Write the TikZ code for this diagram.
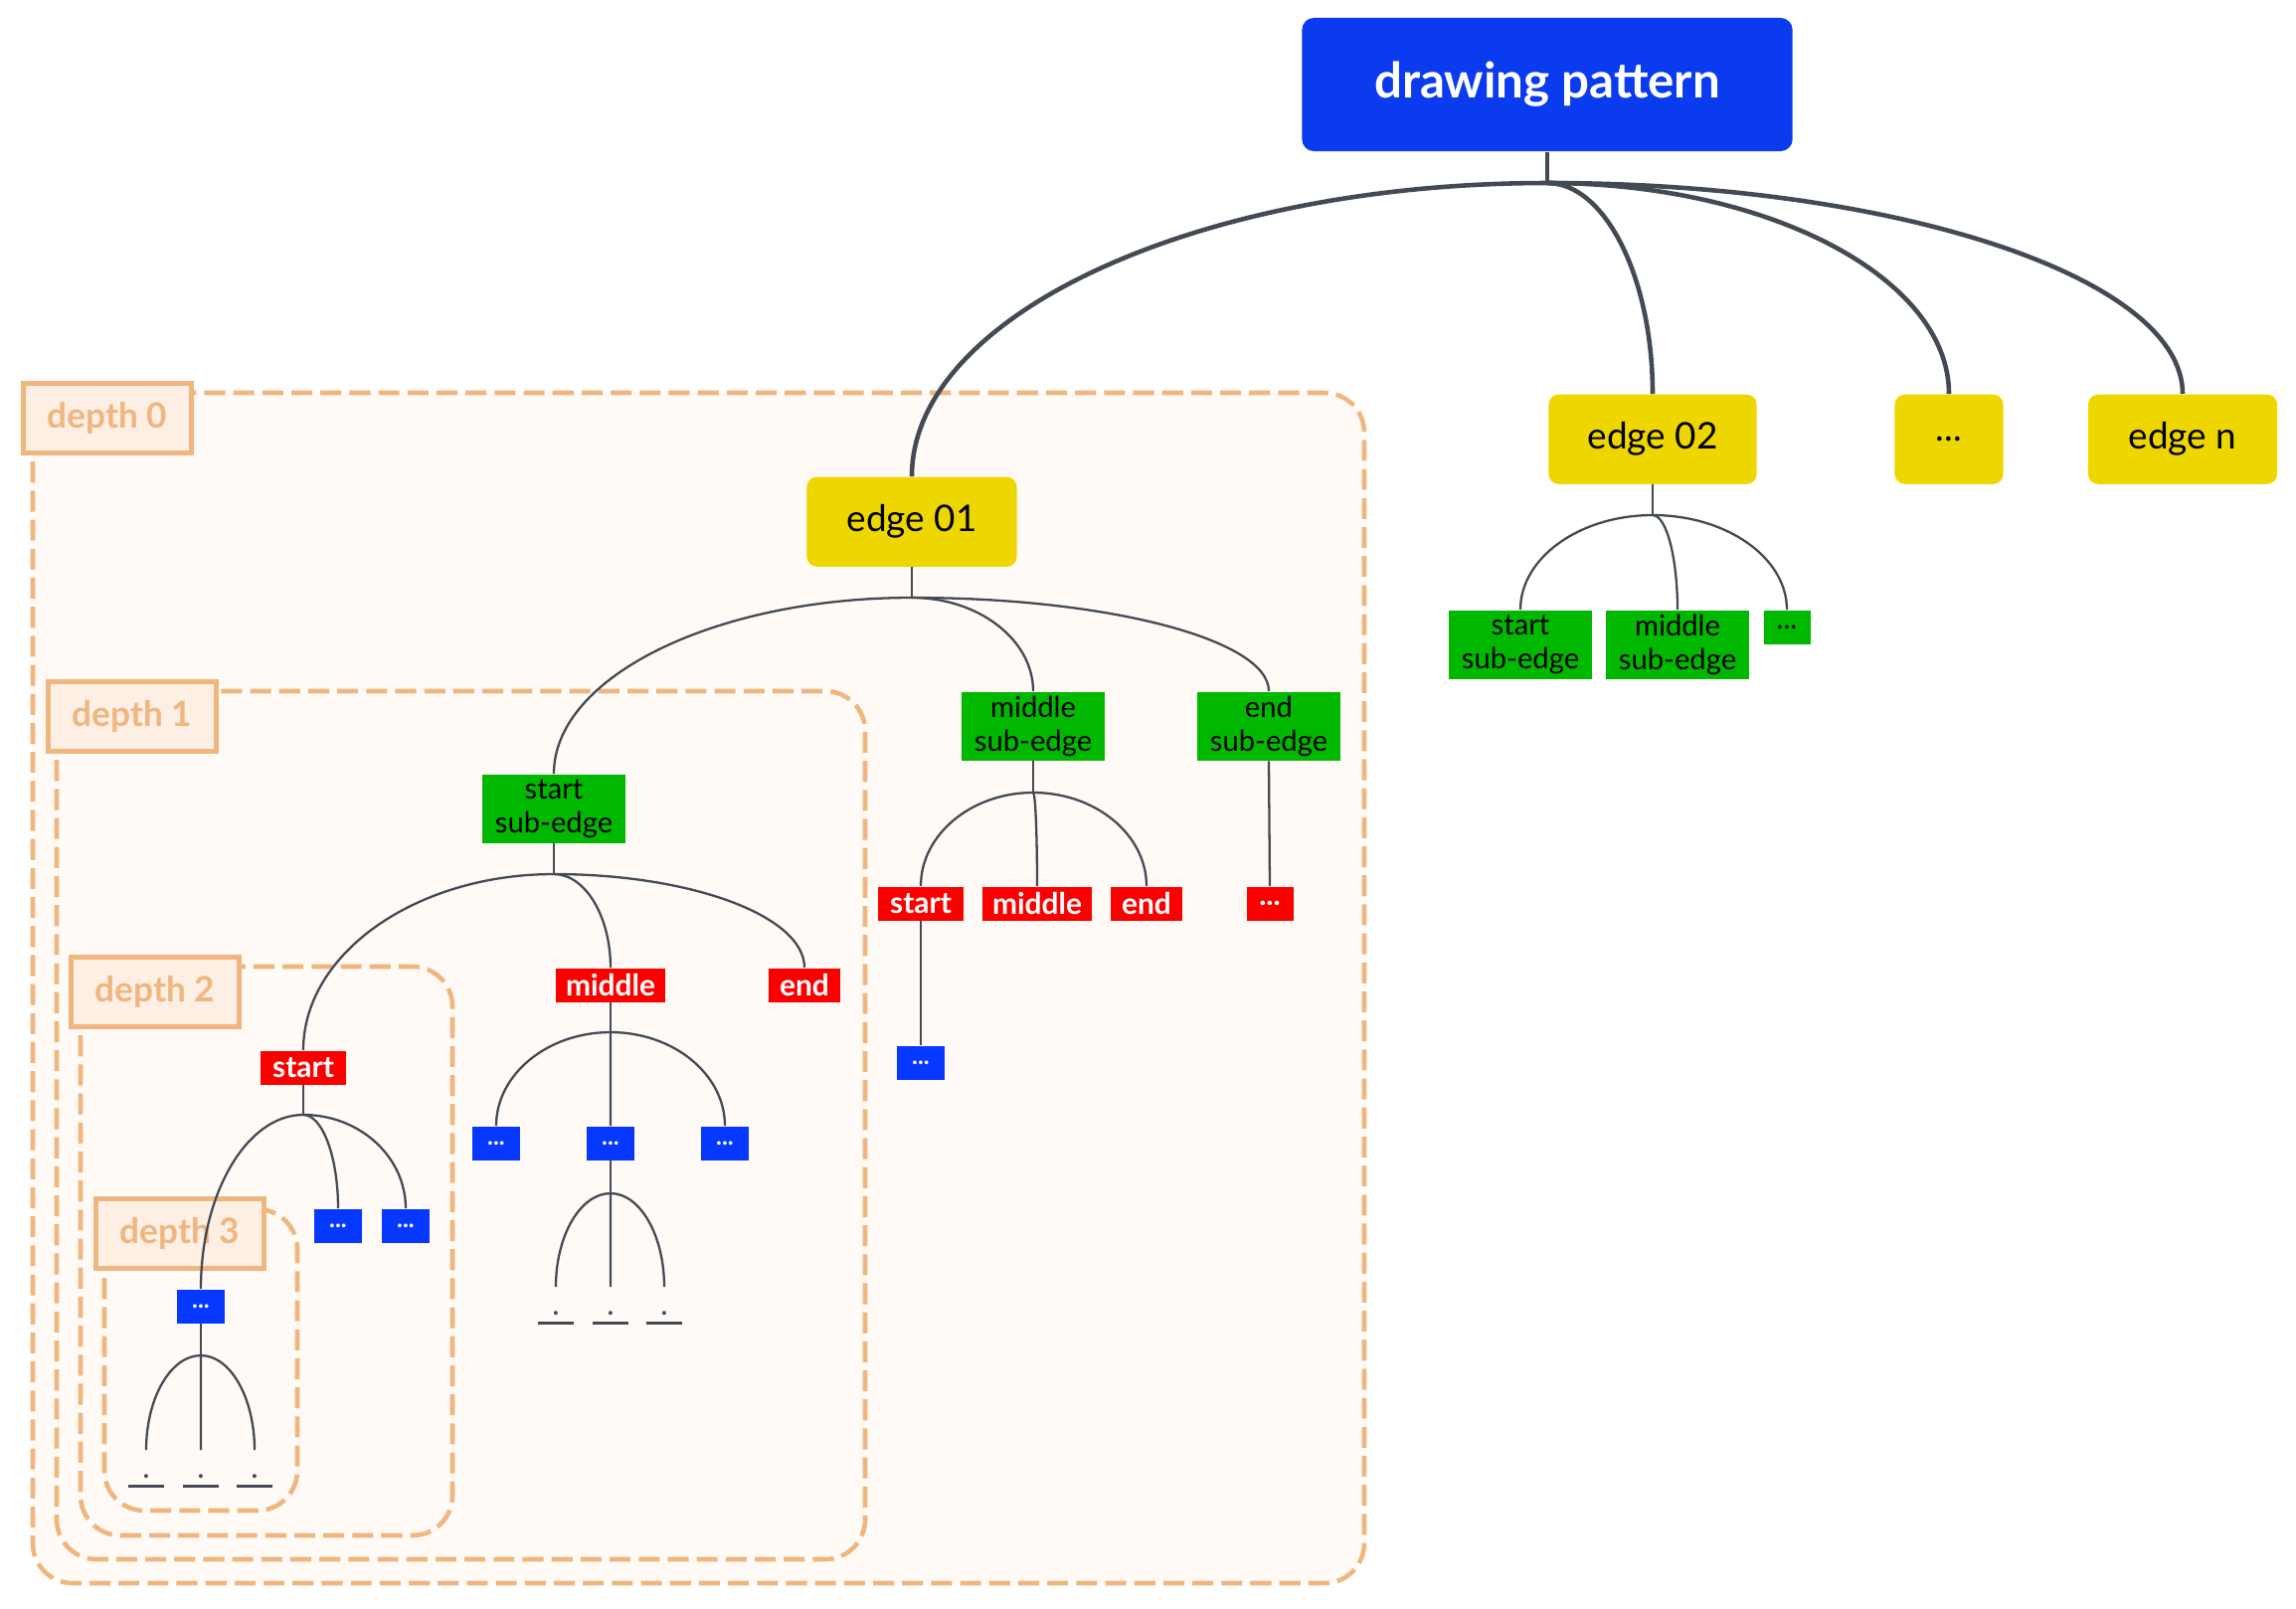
\documentclass[tikz,border=0pt]{standalone}
\usepackage{fontspec}
\setmainfont{Lato}
\usetikzlibrary{calc}

\definecolor{titleblue}{HTML}{0A3BEF}
\definecolor{dotblue}{HTML}{0638FF}
\definecolor{edgeyellow}{HTML}{EED600}
\definecolor{subgreen}{HTML}{00B800}
\definecolor{partred}{HTML}{FC0000}
\definecolor{depthorange}{HTML}{F0B67F}
\definecolor{depthfill}{HTML}{FDEFE3}
\definecolor{areafill}{HTML}{FFFAF6}
\definecolor{linkgray}{HTML}{434A54}

% curved connector: leaves the junction sideways, reaches the child from above
\newcommand{\branch}[3][link]{%
  \draw [#1] (#2) .. controls ($(#2)!0.55!(#2 -| #3.north)$) and ($(#3.north)!0.55!(#2 -| #3.north)$) .. (#3.north);}

\begin{document}
\begin{tikzpicture}[x = 0.01cm, y = -0.01cm,
    title/.style = {fill = titleblue, rounded corners = 0.12cm, text = white, font = \bfseries\fontsize{14}{16}\selectfont,
                    minimum width = 4.93cm, minimum height = 1.34cm, inner sep = 0},
    edgebox/.style = {fill = edgeyellow, rounded corners = 0.1cm, font = \fontsize{10.5}{12}\selectfont,
                      minimum height = 0.9cm, inner sep = 0, anchor = north},
    subbox/.style = {fill = subgreen, font = \fontsize{8.3}{9.7}\selectfont, align = center,
                     minimum width = 1.43cm, minimum height = 0.69cm, inner sep = 0, anchor = north},
    partbox/.style = {fill = partred, text = white, font = \bfseries\fontsize{8.5}{10}\selectfont,
                      minimum height = 0.34cm, inner sep = 0, anchor = north},
    morebox/.style = {fill = dotblue, text = white, font = \bfseries\fontsize{7}{8}\selectfont,
                      minimum width = 0.47cm, minimum height = 0.34cm, inner sep = 0, anchor = north},
    leaf/.style = {font = \bfseries\fontsize{7.5}{8}\selectfont, text = linkgray, minimum width = 0.35cm,
                   text height = 0.28cm, text depth = 0.07cm, inner sep = 0, anchor = north},
    area/.style = {draw = depthorange, fill = areafill, line width = 1.3pt, dash pattern = on 6pt off 2.3pt,
                   rounded corners = 0.4cm},
    depthtag/.style = {draw = depthorange, fill = depthfill, text = depthorange, line width = 1.3pt,
                       font = \bfseries\fontsize{10}{12}\selectfont, minimum width = 1.69cm, minimum height = 0.7cm,
                       inner sep = 0, anchor = north west},
    link/.style = {draw = linkgray, line width = 0.65pt},
    trunk/.style = {draw = linkgray, line width = 1.3pt}]
    \useasboundingbox (0, 0) rectangle (2309, 1617);

    % depth areas
    \draw [area] (33, 395) rectangle (1372, 1592);
    \draw [area] (57, 695) rectangle (870, 1568);
    \draw [area] (81, 972) rectangle (455, 1544);
    \draw [area] (105, 1216) rectangle (299, 1519);
    \node [depthtag] (tag0) at (21, 383) {depth 0};
    \node [depthtag] (tag1) at (46, 683) {depth 1};
    \node [depthtag] (tag2) at (69, 960) {depth 2};
    \node [depthtag] (tag3) at (94, 1203) {depth 3};

    % root and edges
    \node [title] (root) at (1556, 85) {drawing pattern};
    \coordinate (j0) at (1556, 184);
    \node [edgebox, minimum width = 2.11cm] (e1) at (917, 479) {edge 01};
    \node [edgebox, minimum width = 2.09cm] (e2) at (1662, 396) {edge 02};
    \node [edgebox, minimum width = 1.09cm] (edots) at (1960, 396) {...};
    \node [edgebox, minimum width = 1.90cm] (en) at (2195, 396) {edge n};

    % sub-edges
    \coordinate (j1) at (917, 601);
    \node [subbox] (s1) at (557, 778) {start\\sub-edge};
    \node [subbox] (m1) at (1039, 695) {middle\\sub-edge};
    \node [subbox] (f1) at (1276, 695) {end\\sub-edge};
    \coordinate (j2) at (1662, 518);
    \node [subbox] (s2) at (1529, 613) {start\\sub-edge};
    \node [subbox] (m2) at (1687, 613) {middle\\sub-edge};
    \node [subbox, minimum width = 0.47cm, minimum height = 0.34cm] (d2) at (1797, 613) {...};

    % parts
    \coordinate (j3) at (557, 879);
    \node [partbox, minimum width = 0.86cm] (ps1) at (305, 1056) {start};
    \node [partbox, minimum width = 1.09cm] (pm1) at (614, 973) {middle};
    \node [partbox, minimum width = 0.72cm] (pe1) at (809, 973) {end};
    \coordinate (j4) at (1039, 797);
    \node [partbox, minimum width = 0.86cm] (ps2) at (926, 891) {start};
    \node [partbox, minimum width = 1.09cm] (pm2) at (1043, 891) {middle};
    \node [partbox, minimum width = 0.72cm] (pe2) at (1153, 891) {end};
    \node [partbox, minimum width = 0.47cm] (pd2) at (1277, 891) {...};

    % deeper levels
    \node [morebox] (q0) at (926, 1051) {...};
    \coordinate (j5) at (305, 1121);
    \node [morebox] (q1) at (202, 1296) {...};
    \node [morebox] (q2) at (340, 1215) {...};
    \node [morebox] (q3) at (408, 1215) {...};
    \coordinate (j6) at (614, 1038);
    \node [morebox] (q4) at (499, 1132) {...};
    \node [morebox] (q5) at (614, 1132) {...};
    \node [morebox] (q6) at (729, 1132) {...};
    \coordinate (j7) at (614, 1200);
    \coordinate (j8) at (202, 1363);

    % connectors
    \draw [trunk] (root.south) -- (j0);
    \foreach \c in {e1, e2, edots, en} \branch[trunk]{j0}{\c};
    \draw [link] (e1.south) -- (j1);
    \foreach \c in {s1, m1, f1} \branch{j1}{\c};
    \draw [link] (e2.south) -- (j2);
    \foreach \c in {s2, m2, d2} \branch{j2}{\c};
    \draw [link] (s1.south) -- (j3);
    \foreach \c in {ps1, pm1, pe1} \branch{j3}{\c};
    \draw [link] (m1.south) -- (j4);
    \foreach \c in {ps2, pm2, pe2} \branch{j4}{\c};
    \draw [link] (f1.south) -- (pd2.north);
    \draw [link] (ps2.south) -- (q0.north);
    \draw [link] (ps1.south) -- (j5);
    \foreach \c in {q1, q2, q3} \branch{j5}{\c};
    \draw [link] (pm1.south) -- (j6);
    \foreach \c in {q4, q5, q6} \branch{j6}{\c};
    \draw [link] (q5.south) -- (j7);
    \draw [link] (q1.south) -- (j8);

    % leaves
    \foreach \x [count = \i] in {559, 614, 668} {
        \node [leaf] (u\i) at (\x, 1294) {.};
        \draw [link] (u\i.south west) -- (u\i.south east);
        \branch{j7}{u\i};
    }
    \foreach \x [count = \i] in {147, 202, 256} {
        \node [leaf] (v\i) at (\x, 1458) {.};
        \draw [link] (v\i.south west) -- (v\i.south east);
        \branch{j8}{v\i};
    }
\end{tikzpicture}
\end{document}
